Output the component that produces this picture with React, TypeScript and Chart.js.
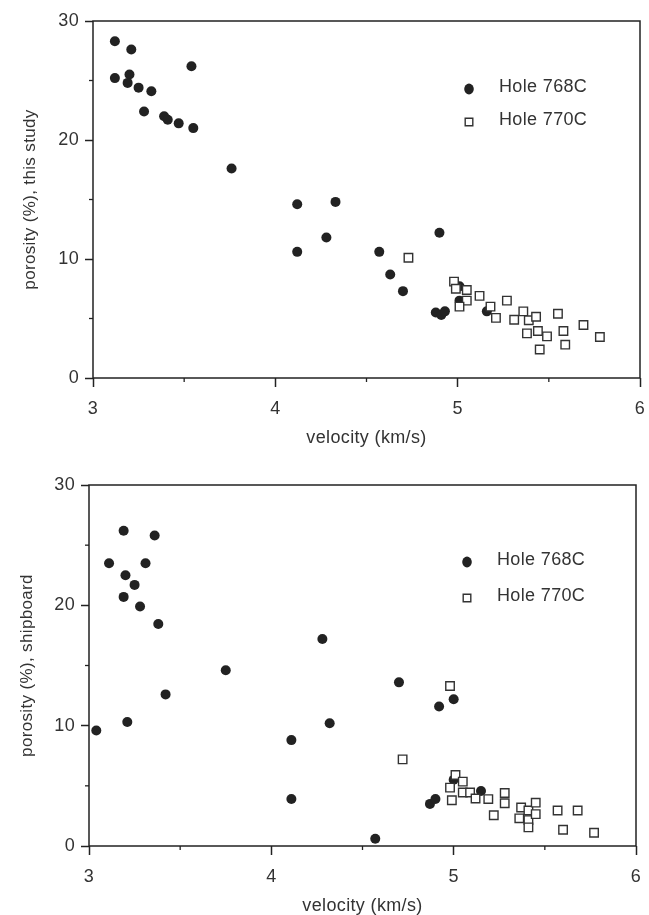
import React, { useEffect, useRef } from 'react';
import { Chart, registerables } from 'chart.js';

Chart.register(...registerables);

// ---- Data: top panel (porosity, this study) ----
const topVel768C = [3.12, 3.21, 3.54, 3.12, 3.2, 3.19, 3.25, 3.32, 3.28, 3.39, 3.41, 3.47, 3.55, 3.76, 4.12, 4.33, 4.28, 4.12, 4.9, 4.57, 4.63, 4.7, 4.88, 4.91, 4.93, 5.01, 5.01, 5.16];
const topPor768C = [28.3, 27.6, 26.2, 25.2, 25.5, 24.8, 24.4, 24.1, 22.4, 22.0, 21.7, 21.4, 21.0, 17.6, 14.6, 14.8, 11.8, 10.6, 12.2, 10.6, 8.7, 7.3, 5.5, 5.3, 5.6, 6.5, 7.7, 5.6];
const topVel770C = [4.73, 4.98, 4.99, 5.05, 5.05, 5.01, 5.12, 5.18, 5.21, 5.27, 5.31, 5.36, 5.39, 5.43, 5.38, 5.44, 5.49, 5.45, 5.55, 5.58, 5.59, 5.69, 5.78];
const topPor770C = [10.1, 8.1, 7.5, 7.4, 6.5, 6.0, 6.9, 6.0, 5.05, 6.5, 4.9, 5.6, 4.85, 5.15, 3.75, 3.95, 3.5, 2.4, 5.4, 3.95, 2.8, 4.45, 3.45];

// ---- Data: bottom panel (porosity, shipboard) ----
const botVel768C = [3.19, 3.36, 3.11, 3.31, 3.2, 3.25, 3.19, 3.28, 3.38, 4.28, 3.75, 3.04, 3.21, 3.42, 4.7, 4.32, 4.11, 4.11, 4.57, 4.92, 5.0, 4.87, 4.9, 5.15, 5.0];
const botPor768C = [26.2, 25.8, 23.5, 23.5, 22.5, 21.7, 20.7, 19.9, 18.45, 17.2, 14.6, 9.6, 10.3, 12.6, 13.6, 10.2, 8.8, 3.9, 0.6, 11.6, 12.2, 3.5, 3.9, 4.57, 5.5];
const botVel770C = [4.98, 4.72, 5.01, 4.98, 5.05, 4.99, 5.05, 5.09, 5.12, 5.19, 5.22, 5.28, 5.28, 5.37, 5.36, 5.41, 5.41, 5.41, 5.45, 5.45, 5.57, 5.68, 5.6, 5.77];
const botPor770C = [13.3, 7.2, 5.9, 4.85, 5.35, 3.8, 4.45, 4.45, 3.95, 3.9, 2.55, 4.4, 3.55, 3.2, 2.3, 2.95, 2.15, 1.55, 3.6, 2.65, 2.95, 2.95, 1.35, 1.1];

const seriesNames = ['Hole 768C', 'Hole 770C'];
const xTitle = 'velocity (km/s)';
const topYTitle = 'porosity (%), this study';
const botYTitle = 'porosity (%), shipboard';
const xMin = 3, xMax = 6, xStep = 0.5;
const yMin = 0, yMax = 30, yStep = 5;

const FONT = "'Liberation Sans', Arial, Helvetica, sans-serif";
const INK = '#222';
const TEXT = '#333';
const SPACING = '0.35px';

const toPoints = (xs: number[], ys: number[]) => xs.map((x, i) => ({ x, y: ys[i] }));

type PanelCfg = {
  width: number; height: number; top: number;
  areaLeft: number; areaTop: number; areaRight: number; areaBottom: number;
  yTitle: string; yTitleX: number; xTitleY: number;
  legend: { mx: number; my: number; gap: number; tx: number };
  v768: number[]; p768: number[]; v770: number[]; p770: number[];
};

const setSpacing = (chart: any) => {
  try { (chart.ctx as any).letterSpacing = SPACING; } catch (e) { /* ignore */ }
};

const decoPlugin = {
  id: 'deco',
  beforeUpdate(chart: any) { setSpacing(chart); },
  beforeLayout(chart: any) { setSpacing(chart); },
  beforeDraw(chart: any) { setSpacing(chart); },
  afterDraw(chart: any, _args: any, opts: any) {
    const { ctx, chartArea: a, scales } = chart;
    ctx.save();
    // frame
    ctx.strokeStyle = INK;
    ctx.lineWidth = 1.5;
    ctx.strokeRect(a.left, a.top, a.right - a.left, a.bottom - a.top);
    // minor ticks
    ctx.lineWidth = 1.3;
    const xs = scales.x, ys = scales.y;
    xs.ticks.forEach((t: any) => {
      if (!Number.isInteger(t.value)) {
        const px = xs.getPixelForValue(t.value);
        ctx.beginPath(); ctx.moveTo(px, a.bottom); ctx.lineTo(px, a.bottom + 4); ctx.stroke();
      }
    });
    ys.ticks.forEach((t: any) => {
      if (t.value % 10 !== 0) {
        const py = ys.getPixelForValue(t.value);
        ctx.beginPath(); ctx.moveTo(a.left - 4, py); ctx.lineTo(a.left, py); ctx.stroke();
      }
    });
    // legend
    const lg = opts.legend;
    const ds = chart.data.datasets;
    ds.forEach((d: any, i: number) => {
      const cx = a.left + lg.mx;
      const cy = a.top + lg.my + i * lg.gap;
      ctx.beginPath();
      if (d.pointStyle === 'rect') {
        ctx.fillStyle = '#fff';
        ctx.strokeStyle = d.borderColor;
        ctx.lineWidth = 1.4;
        ctx.rect(cx - 3.8, cy - 3.8, 7.6, 7.6);
        ctx.fill(); ctx.stroke();
      } else {
        ctx.fillStyle = d.backgroundColor;
        ctx.ellipse(cx, cy, 4.8, 5.4, 0, 0, Math.PI * 2);
        ctx.fill();
      }
      ctx.fillStyle = TEXT;
      ctx.font = `18px ${FONT}`;
      ctx.textBaseline = 'middle';
      ctx.textAlign = 'left';
      ctx.fillText(d.label, a.left + lg.tx, cy - 2);
    });
    ctx.restore();
  },
};

function Panel({ cfg }: { cfg: PanelCfg }) {
  const ref = useRef<HTMLCanvasElement>(null);
  useEffect(() => {
    if (!ref.current) return;
    const chart = new Chart(ref.current, {
      type: 'scatter',
      data: {
        datasets: [
          {
            label: seriesNames[0],
            data: toPoints(cfg.v768, cfg.p768),
            pointStyle: 'circle',
            pointRadius: 5,
            backgroundColor: INK,
            borderColor: INK,
            borderWidth: 0,
            order: 2,
          },
          {
            label: seriesNames[1],
            data: toPoints(cfg.v770, cfg.p770),
            pointStyle: 'rect',
            pointRadius: 6,
            backgroundColor: '#fff',
            borderColor: '#333',
            borderWidth: 1.4,
            order: 1,
          },
        ],
      },
      options: {
        responsive: false,
        animation: false,
        devicePixelRatio: 1,
        layout: {
          padding: { left: 0, top: cfg.areaTop, right: cfg.width - cfg.areaRight, bottom: 0 },
        },
        plugins: {
          legend: { display: false },
          tooltip: { enabled: false },
          deco: { legend: cfg.legend },
        } as any,
        scales: {
          x: {
            type: 'linear',
            min: xMin, max: xMax,
            afterFit: (s: any) => {
              s.height = cfg.height - cfg.areaBottom;
              s.paddingLeft = 0; s.paddingRight = 0;
            },
            ticks: {
              stepSize: xStep,
              autoSkip: false,
              maxRotation: 0,
              padding: 11,
              color: TEXT,
              font: { family: FONT, size: 18 },
              callback: (v: any) => (Number.isInteger(v) ? String(v) : ''),
            },
            grid: {
              drawOnChartArea: false,
              tickLength: 9,
              tickWidth: 1.5,
              tickColor: (c: any) => (c.tick && Number.isInteger(c.tick.value) ? INK : 'rgba(0,0,0,0)'),
            },
            border: { display: false },
            title: {
              display: true,
              text: xTitle,
              color: TEXT,
              font: { family: FONT, size: 18, lineHeight: 1 },
              padding: { top: 0, bottom: cfg.height - cfg.xTitleY - 9 },
            },
          },
          y: {
            type: 'linear',
            min: yMin, max: yMax,
            afterFit: (s: any) => {
              s.width = cfg.areaLeft;
              s.paddingTop = 0; s.paddingBottom = 0;
            },
            ticks: {
              stepSize: yStep,
              autoSkip: false,
              padding: 6,
              color: TEXT,
              font: { family: FONT, size: 18 },
              callback: (v: any) => (v % 10 === 0 ? String(v) : ''),
            },
            grid: {
              drawOnChartArea: false,
              tickLength: 8,
              tickWidth: 1.5,
              tickColor: (c: any) => (c.tick && c.tick.value % 10 === 0 ? INK : 'rgba(0,0,0,0)'),
            },
            border: { display: false },
            title: {
              display: true,
              text: cfg.yTitle,
              color: TEXT,
              font: { family: FONT, size: 17, lineHeight: 1 },
              padding: { top: cfg.yTitleX - 8.5, bottom: 0 },
            },
          },
        },
      },
      plugins: [decoPlugin],
    });
    return () => chart.destroy();
  }, [cfg]);
  return (
    <div style={{ position: 'absolute', left: 0, top: cfg.top, width: cfg.width, height: cfg.height }}>
      <canvas ref={ref} width={cfg.width} height={cfg.height} style={{ display: 'block' }} />
    </div>
  );
}

const topCfg: PanelCfg = {
  width: 649, height: 450, top: 0,
  areaLeft: 93, areaTop: 21, areaRight: 640, areaBottom: 378,
  yTitle: topYTitle, yTitleX: 30, xTitleY: 438,
  legend: { mx: 376, my: 68, gap: 33, tx: 406 },
  v768: topVel768C, p768: topPor768C, v770: topVel770C, p770: topPor770C,
};

const botCfg: PanelCfg = {
  width: 649, height: 465, top: 450,
  areaLeft: 89, areaTop: 35, areaRight: 636, areaBottom: 396,
  yTitle: botYTitle, yTitleX: 27, xTitleY: 456,
  legend: { mx: 378, my: 77, gap: 36, tx: 408 },
  v768: botVel768C, p768: botPor768C, v770: botVel770C, p770: botPor770C,
};

export default function App() {
  return (
    <div style={{ position: 'absolute', left: 0, top: 0, width: 649, height: 915, background: '#fff' }}>
      <Panel cfg={topCfg} />
      <Panel cfg={botCfg} />
    </div>
  );
}
